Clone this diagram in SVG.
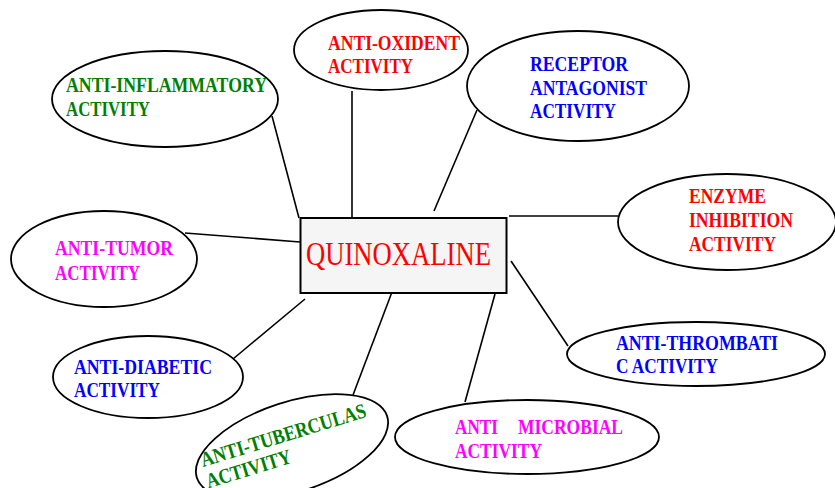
<svg xmlns="http://www.w3.org/2000/svg" width="835" height="488" viewBox="0 0 835 488">
<style>
.e{fill:#fff;stroke:#000;stroke-width:1.8}
.t{font-family:"Liberation Serif","Times New Roman",serif;font-weight:bold;font-size:21px}
.g{fill:#008000}.r{fill:#ff0000}.b{fill:#0000ff}.m{fill:#ff00ff}
#connectors line{stroke:#000;stroke-width:1.6}
</style>
<rect width="835" height="488" fill="#fff"/>
<g id="connectors">
<line x1="272" y1="116" x2="299" y2="218"/>
<line x1="352" y1="91" x2="352" y2="219"/>
<line x1="477" y1="110" x2="434" y2="211"/>
<line x1="509" y1="216" x2="618" y2="216"/>
<line x1="185" y1="233" x2="300" y2="242"/>
<line x1="233" y1="359" x2="305" y2="299"/>
<line x1="353" y1="395" x2="392" y2="292"/>
<line x1="465" y1="402" x2="495" y2="294"/>
<line x1="511" y1="261" x2="568" y2="346"/>
</g>
<g id="quinoxaline">
<rect x="300.5" y="218" width="206" height="75" fill="#f5f5f5" stroke="#000" stroke-width="2"/>
<text x="306" y="265" font-family="'Liberation Serif','Times New Roman',serif" font-size="33" fill="#ff0000" textLength="185" lengthAdjust="spacingAndGlyphs">QUINOXALINE</text>
</g>
<g id="anti-inflammatory">
<ellipse class="e" cx="165" cy="99" rx="113" ry="48"/>
<text class="t g" x="66" y="92" textLength="201" lengthAdjust="spacingAndGlyphs">ANTI-INFLAMMATORY</text>
<text class="t g" x="66" y="116" textLength="84" lengthAdjust="spacingAndGlyphs">ACTIVITY</text>
</g>
<g id="anti-oxident">
<ellipse class="e" cx="381" cy="50" rx="87" ry="40"/>
<text class="t r" x="328" y="50" textLength="132" lengthAdjust="spacingAndGlyphs">ANTI-OXIDENT</text>
<text class="t r" x="328" y="73" textLength="85" lengthAdjust="spacingAndGlyphs">ACTIVITY</text>
</g>
<g id="receptor-antagonist">
<ellipse class="e" cx="578" cy="86" rx="111" ry="55"/>
<text class="t b" x="530" y="71" textLength="98" lengthAdjust="spacingAndGlyphs">RECEPTOR</text>
<text class="t b" x="530" y="95" textLength="117" lengthAdjust="spacingAndGlyphs">ANTAGONIST</text>
<text class="t b" x="530" y="118" textLength="86" lengthAdjust="spacingAndGlyphs">ACTIVITY</text>
</g>
<g id="enzyme-inhibition">
<ellipse class="e" cx="727" cy="222" rx="109" ry="48"/>
<text class="t r" x="689" y="203" textLength="77" lengthAdjust="spacingAndGlyphs">ENZYME</text>
<text class="t r" x="689" y="227" textLength="104" lengthAdjust="spacingAndGlyphs">INHIBITION</text>
<text class="t r" x="689" y="251" textLength="87" lengthAdjust="spacingAndGlyphs">ACTIVITY</text>
</g>
<g id="anti-tumor">
<ellipse class="e" cx="104" cy="259" rx="93" ry="48"/>
<text class="t m" x="55" y="255" textLength="118" lengthAdjust="spacingAndGlyphs">ANTI-TUMOR</text>
<text class="t m" x="55" y="280" textLength="85" lengthAdjust="spacingAndGlyphs">ACTIVITY</text>
</g>
<g id="anti-diabetic">
<ellipse class="e" cx="148" cy="377" rx="95" ry="41"/>
<text class="t b" x="74" y="374" textLength="138" lengthAdjust="spacingAndGlyphs">ANTI-DIABETIC</text>
<text class="t b" x="74" y="397" textLength="86" lengthAdjust="spacingAndGlyphs">ACTIVITY</text>
</g>
<g id="anti-tuberculas">
<ellipse class="e" cx="292" cy="447" rx="100" ry="45" transform="rotate(-18 292 447)"/>
<g transform="translate(203 467) rotate(-17)">
<text class="t g" x="0" y="0" textLength="172" lengthAdjust="spacingAndGlyphs">ANTI-TUBERCULAS</text>
<text class="t g" x="-1" y="22" textLength="88" lengthAdjust="spacingAndGlyphs">ACTIVITY</text>
</g>
</g>
<g id="anti-microbial">
<ellipse class="e" cx="527" cy="437" rx="132" ry="37"/>
<text class="t m" x="455" y="434" textLength="43" lengthAdjust="spacingAndGlyphs">ANTI</text>
<text class="t m" x="518" y="434" textLength="105" lengthAdjust="spacingAndGlyphs">MICROBIAL</text>
<text class="t m" x="455" y="458" textLength="87" lengthAdjust="spacingAndGlyphs">ACTIVITY</text>
</g>
<g id="anti-thrombatic">
<ellipse class="e" cx="696" cy="354" rx="129" ry="32"/>
<text class="t b" x="616" y="350" textLength="162" lengthAdjust="spacingAndGlyphs">ANTI-THROMBATI</text>
<text class="t b" x="616" y="373" textLength="102" lengthAdjust="spacingAndGlyphs">C ACTIVITY</text>
</g>
</svg>
